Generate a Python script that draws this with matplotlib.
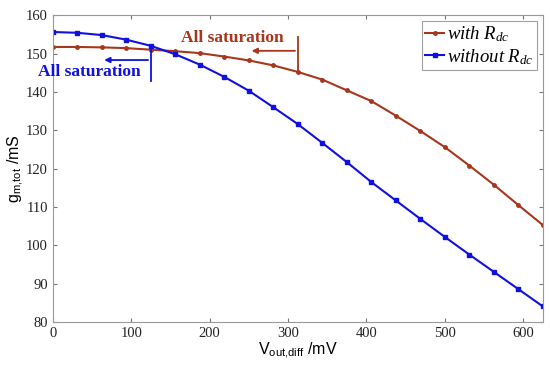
import matplotlib
matplotlib.use("Agg")
import matplotlib.pyplot as plt

# data (V_out,diff in mV, g_m,tot in mS)
v_out = [0, 31.25, 62.5, 93.75, 125, 156.25, 187.5, 218.75, 250, 281.25, 312.5,
         343.75, 375, 406.25, 437.5, 468.75, 500, 531.25, 562.5, 593.75, 625]
gm_with_rdc = [151.7, 151.7, 151.6, 151.4, 151.0, 150.6, 150.1, 149.2, 148.2, 146.9, 145.2,
               143.2, 140.4, 137.6, 133.8, 129.8, 125.6, 120.8, 115.8, 110.5, 105.3]
gm_without_rdc = [155.6, 155.4, 154.8, 153.6, 152.0, 149.8, 147.1, 143.9, 140.3, 136.0, 131.6,
                  126.7, 121.7, 116.5, 111.7, 106.9, 102.2, 97.6, 93.1, 88.6, 84.1]

plt.rcParams['mathtext.fontset'] = 'custom'
plt.rcParams['mathtext.it'] = 'Liberation Serif:italic'
plt.rcParams['mathtext.rm'] = 'Liberation Serif'
plt.rcParams['mathtext.sf'] = 'Liberation Sans'

red = '#A8361C'
blue = '#1010E0'
serif = ['Liberation Serif', 'DejaVu Serif']
sans = ['Liberation Sans', 'DejaVu Sans']

fig = plt.figure(figsize=(5.5, 3.69), dpi=100)
ax = fig.add_axes([0.096, 0.127, 0.891, 0.832])

ax.plot(v_out, gm_with_rdc, color=red, lw=1.5, marker='o', ms=2.5, label=r'$with\ R_{dc}$')
ax.plot(v_out, gm_without_rdc, color=blue, lw=1.5, marker='s', ms=2.5, label=r'$without\ R_{dc}$')

# "All saturation" markers
ax.plot([312.5, 312.5], [145.2, 154.4], color=red, lw=1.3)
ax.annotate('', xy=(250, 150.7), xytext=(312.5, 150.7),
            arrowprops=dict(arrowstyle='-|>', color=red, lw=1.3, mutation_scale=8))
ax.text(229, 154.0, 'All saturation', color=red, fontsize=12.5, fontweight='bold',
        family=serif, ha='center', va='center')

ax.plot([125, 125], [142.8, 152.2], color=blue, lw=1.3)
ax.annotate('', xy=(62, 148.3), xytext=(125, 148.3),
            arrowprops=dict(arrowstyle='-|>', color=blue, lw=1.3, mutation_scale=8))
ax.text(47, 145.2, 'All saturation', color=blue, fontsize=12.5, fontweight='bold',
        family=serif, ha='center', va='center')

ax.set_xlim(0, 625)
ax.set_ylim(80, 160)
ax.set_xticks([0, 100, 200, 300, 400, 500, 600])
ax.set_yticks(range(80, 161, 10))
ax.tick_params(direction='in', top=True, right=True, colors='#777777', labelcolor='#222222',
               labelsize=10.5, length=3)
for lab in ax.get_xticklabels() + ax.get_yticklabels():
    lab.set_family(serif)
for sp in ax.spines.values():
    sp.set_color('#999999')

ax.set_xlabel(r'V$_{\mathsf{out,\!diff}}$ /mV', family=sans, fontsize=11.5, labelpad=0)
ax.set_ylabel(r'g$_{\mathsf{m,\!tot}}$ /mS', family=sans, fontsize=11.5, labelpad=1)

leg = ax.legend(loc='upper right', prop={'family': serif, 'size': 13.5}, handlelength=1.0,
                handletextpad=0.15, borderpad=0.2, labelspacing=0.15, fancybox=False,
                edgecolor='#888888', borderaxespad=0.3)
leg.get_frame().set_linewidth(0.8)

fig.savefig('out.png', dpi=100)
